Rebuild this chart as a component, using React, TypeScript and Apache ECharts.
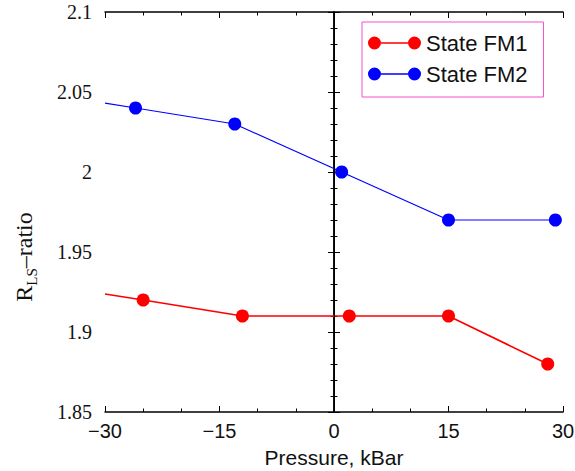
import React, { useEffect, useRef } from "react";
import * as echarts from "echarts";

const seriesNames = ["State FM1", "State FM2"];
// edge point at x=-30 is where each line leaves the left border
const fm1Points: [number, number][] = [
  [-30, 1.9238],
  [-25, 1.92],
  [-12, 1.91],
  [2, 1.91],
  [15, 1.91],
  [28, 1.88],
];
const fm2Points: [number, number][] = [
  [-30, 2.043],
  [-26, 2.04],
  [-13, 2.03],
  [1, 2.0],
  [15, 1.97],
  [29, 1.97],
];
const xRange = { min: -30, max: 30, interval: 15 };
const yRange = { min: 1.85, max: 2.1, interval: 0.05 };
const xTitle = "Pressure, kBar";

const SANS = "'Liberation Sans', sans-serif";
const SERIF = "'Liberation Serif', serif";

const legendIcon =
  "path://M0,6.5a6.5,6.5 0 1,0 13,0a6.5,6.5 0 1,0 -13,0ZM40,6.5a6.5,6.5 0 1,0 13,0a6.5,6.5 0 1,0 -13,0ZM13,5.7h27v1.6h-27Z";

function toData(points: [number, number][]) {
  return points.map((p, i) =>
    i === 0 ? { value: p, symbol: "none" } : { value: p }
  );
}

export default function App() {
  const ref = useRef<HTMLDivElement>(null);
  useEffect(() => {
    if (!ref.current) return;
    const chart = echarts.init(ref.current, null, {
      renderer: "svg",
      width: 575,
      height: 471,
    });
    const axisLine = { show: true, lineStyle: { color: "#000", width: 1.5 } };
    const tick = { show: true, inside: true, length: 6, lineStyle: { color: "#000", width: 1 } };
    const xMinor = { show: true, splitNumber: 3, length: 3.5, lineStyle: { color: "#000", width: 1 } };
    const yMinor = { show: true, splitNumber: 5, length: 3.5, lineStyle: { color: "#000", width: 1 } };
    const fmtX = (v: number) => (v < 0 ? "\u2212" + Math.abs(v) : String(v));
    const fmtY = (v: number) => String(+v.toFixed(2));
    chart.setOption({
      animation: false,
      backgroundColor: "#fff",
      grid: {
        left: 105,
        right: 12,
        top: 12,
        bottom: 59,
        containLabel: false,
        outerBoundsMode: "none",
      },
      legend: {
        orient: "vertical",
        left: 362,
        top: 22,
        padding: [10, 16, 12, 6],
        itemGap: 9,
        itemWidth: 53,
        itemHeight: 13,
        borderColor: "#f050d0",
        borderWidth: 1,
        backgroundColor: "#fff",
        data: seriesNames.map((n) => ({ name: n, icon: legendIcon })),
        textStyle: { fontFamily: SANS, fontSize: 22, color: "#111" },
      },
      xAxis: [
        {
          type: "value",
          min: xRange.min,
          max: xRange.max,
          interval: xRange.interval,
          position: "bottom",
          axisLine,
          axisTick: tick,
          minorTick: xMinor,
          splitLine: { show: false },
          axisLabel: {
            formatter: fmtX,
            fontFamily: SANS,
            fontSize: 20,
            color: "#111",
            margin: 9,
          },
          name: xTitle,
          nameLocation: "middle",
          nameGap: 35,
          nameTextStyle: {
            fontFamily: SANS,
            fontSize: 21,
            color: "#111",
          },
        },
        {
          type: "value",
          min: xRange.min,
          max: xRange.max,
          interval: xRange.interval,
          position: "top",
          axisLine,
          axisTick: tick,
          minorTick: xMinor,
          splitLine: { show: false },
          axisLabel: { show: false },
        },
      ],
      yAxis: [
        {
          type: "value",
          min: yRange.min,
          max: yRange.max,
          interval: yRange.interval,
          position: "left",
          axisLine,
          axisTick: tick,
          minorTick: yMinor,
          splitLine: { show: false },
          axisLabel: {
            formatter: fmtY,
            fontFamily: SERIF,
            fontSize: 20,
            color: "#111",
            margin: 13,
          },
        },
        {
          type: "value",
          min: yRange.min,
          max: yRange.max,
          interval: yRange.interval,
          position: "right",
          axisLine,
          axisTick: tick,
          minorTick: yMinor,
          splitLine: { show: false },
          axisLabel: { show: false },
        },
      ],
      graphic: [
        {
          type: "text",
          x: 24,
          y: 257,
          rotation: Math.PI / 2,
          style: {
            text: "{r|R}{s|LS}{r|\u2013ratio}",
            align: "center",
            verticalAlign: "middle",
            fill: "#111",
            rich: {
              r: { fontFamily: SERIF, fontSize: 24, lineHeight: 30, fill: "#111" },
              s: {
                fontFamily: SERIF,
                fontSize: 15,
                lineHeight: 14,
                verticalAlign: "bottom",
                fill: "#111",
              },
            },
          },
        },
      ],
      series: [
        {
          name: seriesNames[0],
          type: "line",
          xAxisIndex: 0,
          yAxisIndex: 0,
          data: toData(fm1Points),
          color: "#ff0000",
          symbol: "circle",
          symbolSize: 13,
          lineStyle: { color: "#ff0000", width: 1.6 },
          itemStyle: { color: "#ff0000" },
          markLine: {
            silent: true,
            symbol: ["none", "none"],
            label: { show: false },
            lineStyle: { color: "#000", width: 1, type: "solid" },
            data: [{ xAxis: 0 }],
          },
        },
        {
          name: seriesNames[1],
          type: "line",
          xAxisIndex: 0,
          yAxisIndex: 0,
          data: toData(fm2Points),
          color: "#0000ff",
          symbol: "circle",
          symbolSize: 13,
          lineStyle: { color: "#0000ff", width: 1.2 },
          itemStyle: { color: "#0000ff" },
        },
      ],
    });
    return () => chart.dispose();
  }, []);
  return (
    <div
      ref={ref}
      style={{ position: "fixed", left: 0, top: 0, width: 575, height: 471 }}
    />
  );
}
